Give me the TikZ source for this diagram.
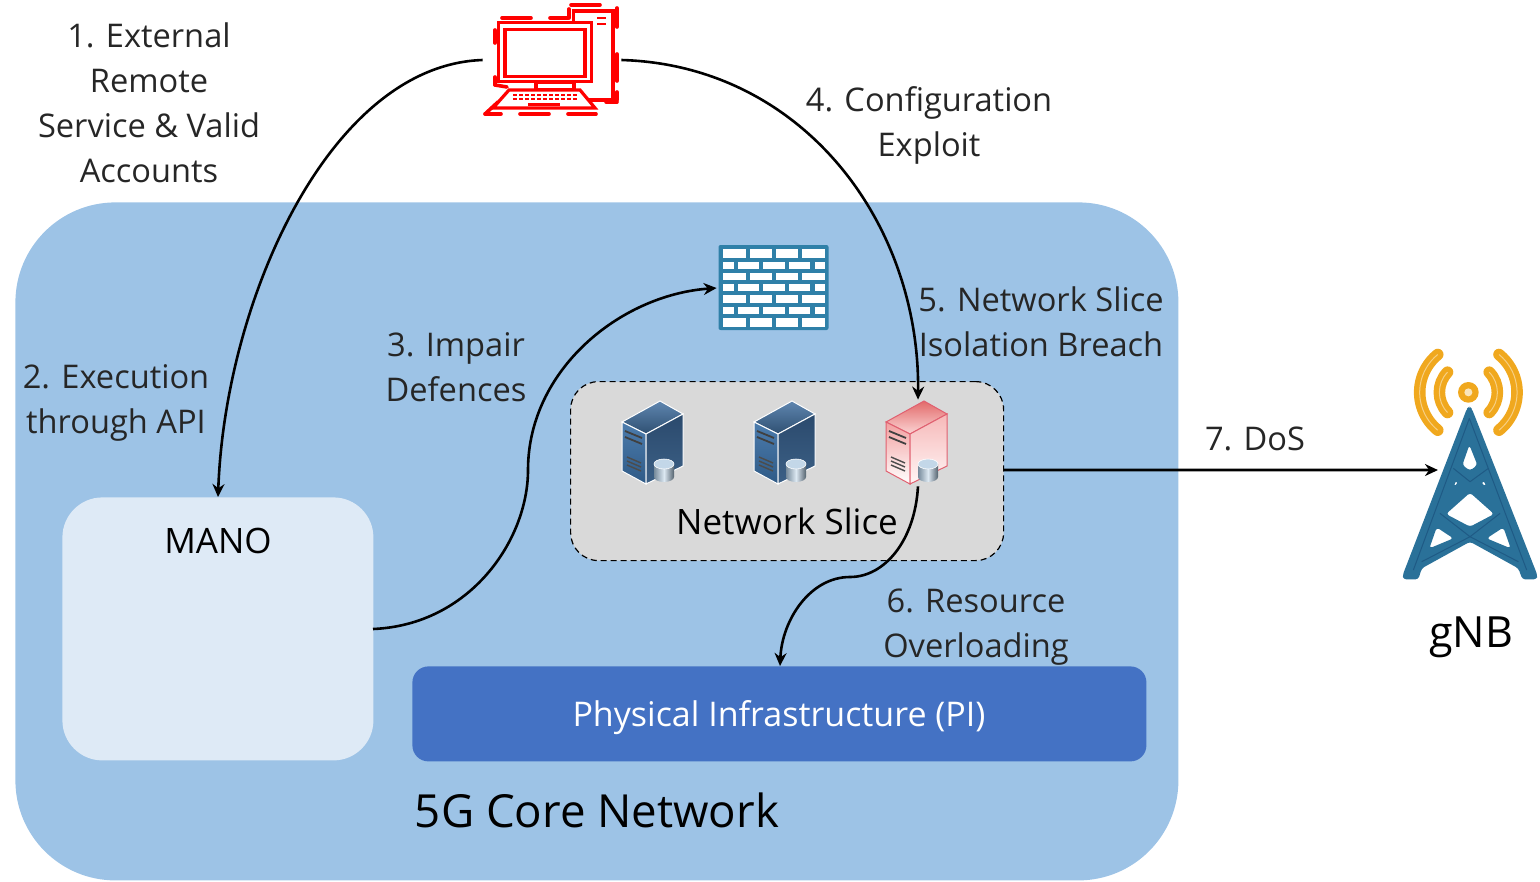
\documentclass[tikz,border=0pt]{standalone}
\usepackage{fontspec}
\setmainfont{Open Sans}
\usetikzlibrary{arrows.meta}
\definecolor{corefill}{HTML}{9DC3E6}
\definecolor{manofill}{HTML}{DEEAF6}
\definecolor{pifill}{HTML}{4472C4}
\definecolor{slicefill}{HTML}{D9D9D9}
\definecolor{towerblue}{HTML}{2A7199}
\definecolor{towerdark}{HTML}{1F5A85}
\definecolor{wallblue}{HTML}{2F80A8}
\definecolor{antenna}{HTML}{F0A81E}
\definecolor{pcred}{HTML}{FF0000}
\definecolor{cylfill}{HTML}{A9C6DE}
\definecolor{bta}{HTML}{5F86B0}\definecolor{btb}{HTML}{2F5072}
\definecolor{bfa}{HTML}{4C7CAD}\definecolor{bfb}{HTML}{2F5A86}
\definecolor{bsa}{HTML}{2B4A6D}\definecolor{bsb}{HTML}{3C6086}
\definecolor{rta}{HTML}{E26A6A}\definecolor{rtb}{HTML}{FBD4D4}
\definecolor{rfa}{HTML}{F2A0A0}\definecolor{rfb}{HTML}{FFFFFF}
\definecolor{rsa}{HTML}{F6B8B8}\definecolor{rsb}{HTML}{FFF6F6}
\definecolor{rline}{HTML}{E06070}
\tikzset{
  x=0.5pt,y=-0.5pt,
  lbl/.style={align=center,inner sep=0pt,text=black!85,font=\fontsize{16.3}{22.5}\selectfont},
  conn/.style={line width=1.3pt,black,-{Stealth[length=6.5pt,width=6pt]}},
  brick/.style={fill=white,draw=none},
  pcline/.style={draw=pcred,line width=1.6pt},
  pcdash/.style={draw=pcred,line width=1.8pt,line cap=round},
  hub/.style={inner sep=0pt,minimum size=0pt}
}
% #1 x, #2 y, #3-#4 top face, #5-#6 front face, #7-#8 side face, #9 edge
\newcommand{\srv}[9]{%
 \begin{scope}[shift={(#1,#2)}]
  \shade[top color=#3,bottom color=#4,draw=#9,line width=.5pt] (0,21)--(38,0)--(61,13)--(24,33)--cycle;
  \shade[top color=#5,bottom color=#6,draw=#9,line width=.5pt] (0,21)--(24,33)--(24,83)--(0,70)--cycle;
  \shade[top color=#7,bottom color=#8,draw=#9,line width=.5pt] (24,33)--(61,13)--(61,65)--(24,83)--cycle;
  \foreach \yy in {30,36}{\draw[black!75,line width=.9pt] (3,\yy)--(20,\yy+7);}
  \foreach \yy in {56,60,64}{\draw[black!70,line width=.7pt] (5,\yy)--(19,\yy+6);}
  \shade[left color=cylfill!70!black,right color=cylfill!50!black,middle color=cylfill!40!white] (32,63) -- (32,76) arc[start angle=180,end angle=0,x radius=10,y radius=5] -- (52,63) -- cycle;
  \fill[cylfill!70!white,draw=white,line width=.3pt] (42,63) ellipse[x radius=10,y radius=5];
 \end{scope}}
\begin{document}
\begin{tikzpicture}
\useasboundingbox (0,0) rectangle (1540,882);
% containers
\node[draw=none,fill=corefill,rounded corners=50pt,minimum width=581.5pt,minimum height=339pt,inner sep=0pt,anchor=north west] (core) at (15,202) {};
\node[fill=manofill,rounded corners=20pt,minimum width=155.5pt,minimum height=131.5pt,inner sep=0pt,anchor=north west] (mano) at (62,497) {};
\node[fill=pifill,rounded corners=8pt,minimum width=367pt,minimum height=47.5pt,inner sep=0pt,anchor=north west] (pi) at (412,666) {};
\node[inner sep=0pt,text=white,font=\fontsize{17}{20}\selectfont] (pit) at (779,718) {Physical Infrastructure (PI)};
\node[fill=slicefill,draw=black,densely dashed,line width=.6pt,rounded corners=14pt,minimum width=216.5pt,minimum height=89.5pt,inner sep=0pt,anchor=north west] (slice) at (570,381) {};
% labels
\node[lbl] (l1) at (149,102.5) {1. External\\Remote\\Service \& Valid\\Accounts};
\node[lbl] (l2) at (116,402.5) {2. Execution\\through API};
\node[lbl] (l3) at (456,367) {3. Impair\\Defences};
\node[lbl] (l4) at (929,125.5) {4. Configuration\\Exploit};
\node[lbl] (l5) at (1041,322) {5. Network Slice\\Isolation Breach};
\node[lbl] (l6) at (976,627) {6. Resource\\Overloading};
\node[lbl] (l7) at (1255,439) {7. DoS};
\node[inner sep=0pt,font=\fontsize{17.5}{20}\selectfont] (mt) at (218,541) {MANO};
\node[inner sep=0pt,font=\fontsize{17.5}{20}\selectfont] (ns) at (787,521) {Network Slice};
\node[inner sep=0pt,font=\fontsize{22.8}{26}\selectfont] (cn) at (597,810) {5G Core Network};
\node[inner sep=0pt,font=\fontsize{21.5}{24}\selectfont] (gnb) at (1471,637) {gNB};
% firewall
\begin{scope}[shift={(700,230)}]
 \fill[wallblue,rounded corners=1pt] (18.5,15) rectangle (128.5,100);
 \foreach \ya/\yb in {18.5/27.5,42.5/50,65/72.5,88/96.5}{
  \foreach \xa/\xb in {22.5/46,50/71.5,76/97.5,101.5/125}{\fill[brick] (\xa,\ya) rectangle (\xb,\yb);}}
 \foreach \ya/\yb in {32/38.5,54/60.5,77/83.5}{
  \foreach \xa/\xb in {22.5/33.5,37.5/58.5,63/84.5,88.5/110,114.5/125}{\fill[brick] (\xa,\ya) rectangle (\xb,\yb);}}
 \node[hub] (wall) at (17,58) {};
\end{scope}
% servers
\srv{622}{401}{bta}{btb}{bfa}{bfb}{bsa}{bsb}{white}
\srv{754}{401}{bta}{btb}{bfa}{bfb}{bsa}{bsb}{white}
\srv{886}{401}{rta}{rtb}{rfa}{rfb}{rsa}{rsb}{rline}
\node[hub] (sv3top) at (918,400) {};
\node[hub] (sv3bot) at (918,486) {};
% computer
\begin{scope}[shift={(470,0)}]
 \draw[pcline,fill=white] (103.5,11) rectangle (143,100);
 \draw[pcline,fill=white] (28.5,22.5) rectangle (121.5,81.5);
 \draw[pcline,fill=white] (35,29.5) rectangle (115,76.5);
 \draw[pcline,fill=white] (66,82) rectangle (104,90);
 \draw[pcline,fill=white] (39,90) -- (110,90) -- (125,108) -- (23,108) -- cycle;
 \foreach \yy in {95,99}{\draw[pcred,line width=1.1pt,dash pattern=on 2pt off 1pt] (43,\yy)--(107,\yy);}
 \draw[pcred,line width=1.2pt] (58,104.5)--(90,104.5);
 \draw[pcred,line width=1.4pt] (127,18)--(136,18) (127,24)--(136,24);
 \foreach \a/\b/\c/\d in {101/5/130/5, 32/18/61/18, 80/18/98/18, 99/18/99/9, 147/8/147/27, 147/54/147/81, 147/92/147/100, 25/30/25/43, 25/77/25/85, 25/85/37/87, 15/114/31/114, 50/114/79/114, 98/114/126/114, 15/114/28/102, 136/102/147/102}{
  \draw[pcdash] (\a,\b)--(\c,\d);}
 \node[hub] (pcl) at (13,60) {};
 \node[hub] (pcr) at (151,60) {};
\end{scope}
% tower
\begin{scope}[shift={(1390,340)},x=0.1667pt,y=-0.1667pt]
 \fill[towerblue,even odd rule,rounded corners=1.5pt]
  (238,200)--(245,205)--(442,705)--(440,718)--(397,718)--(385,685)--(240,605)--(95,685)--(85,718)--(40,718)--(38,705)--(231,205)--cycle
  (238,315)--(262,375)--(240,392)--(217,375)--cycle
  (200,420)--(190,438)--(203,434)--cycle
  (278,420)--(290,438)--(275,434)--cycle
  (240,458)--(312,522)--(240,560)--(168,522)--cycle
  (140,562)--(118,625)--(190,595)--cycle
  (340,562)--(362,625)--(290,595)--cycle;
 \draw[towerdark,line width=.5pt] (238,235)--(70,690) (238,235)--(410,690) (150,520)--(240,590)--(385,665) (330,520)--(240,590)--(95,665) (190,385)--(240,425)--(295,385);
 \node[hub] (twr) at (145,390) {};
 \fill[antenna] (235,157) circle[radius=31];
 \fill[white!70!antenna] (235,157) circle[radius=12];
 \foreach \r/\s in {87/44,146/51}{
  \draw[antenna,line width=5.8pt,line cap=round] ({235+\r*cos(180-\s)},{157+\r*sin(180-\s)}) arc[start angle=180-\s,end angle=180+\s,radius=\r];
  \draw[antenna,line width=5.8pt,line cap=round] ({235+\r*cos(\s)},{157+\r*sin(\s)}) arc[start angle=\s,end angle=-\s,radius=\r];
  \draw[white!45!antenna,line width=.5pt] ({235+\r*cos(180-\s)},{157+\r*sin(180-\s)}) arc[start angle=180-\s,end angle=180+\s,radius=\r];
  \draw[white!45!antenna,line width=.5pt] ({235+\r*cos(\s)},{157+\r*sin(\s)}) arc[start angle=\s,end angle=-\s,radius=\r];
 }
\end{scope}
% connectors
\coordinate (manotop) at (218,497);
\coordinate (manoright) at (373,629);
\coordinate (sliceright) at (1003,470);
\coordinate (pitop) at (780,666);
\coordinate (b3) at (528,470);
\coordinate (b6) at (850,577);
\draw[conn] (pcl) .. controls (330,65) and (225,300) .. (manotop);
\draw[conn] (pcr) .. controls (800,65) and (920,220) .. (sv3top);
\draw[conn] (manoright) .. controls (470,625) and (528,540) .. (b3) .. controls (528,370) and (620,295) .. (wall);
\draw[conn] (sv3bot) .. controls (915,540) and (885,577) .. (b6) .. controls (810,577) and (782,620) .. (pitop);
\draw[conn] (sliceright) -- (twr);
\end{tikzpicture}
\end{document}
